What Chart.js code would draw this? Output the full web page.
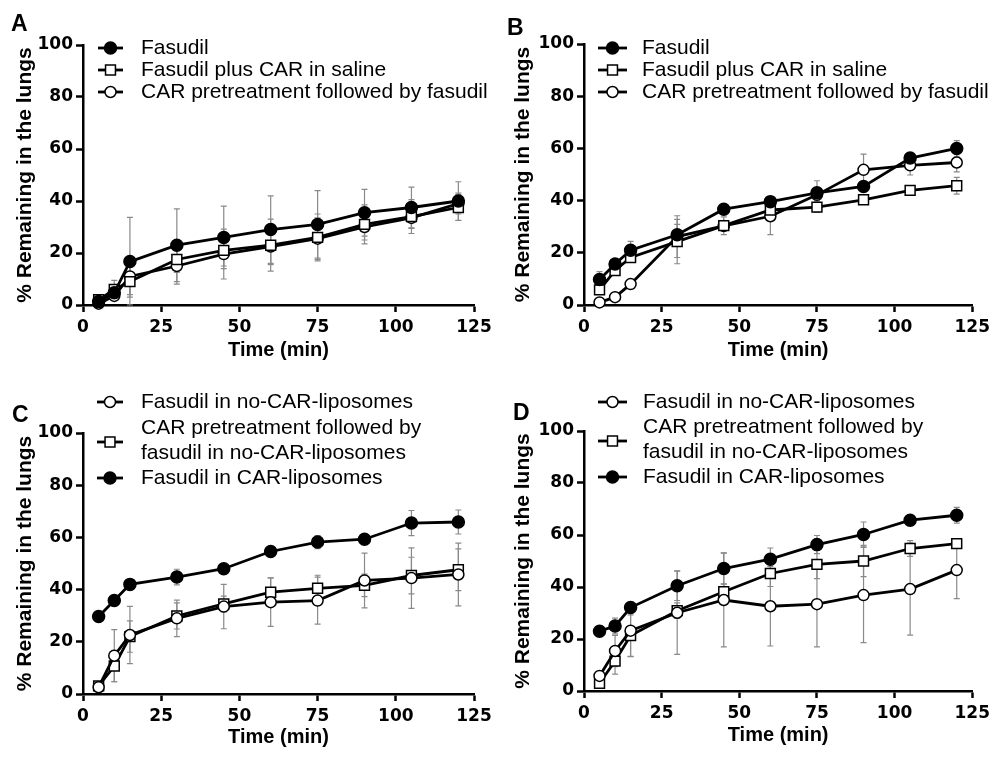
<!DOCTYPE html>
<html>
<head>
<meta charset="utf-8">
<script src="https://cdn.jsdelivr.net/npm/chart.js@4.4.0/dist/chart.umd.min.js"></script>
<style>
html, body { margin: 0; padding: 0; background: #fff; }
#page { position: relative; width: 995px; height: 759px; overflow: hidden; }
.panel { position: absolute; }
.panel canvas { display: block; }
</style>
</head>
<body>
<div id="page">
  <div class="panel" style="left:0;top:0"><canvas id="chartA" width="497" height="375"></canvas></div>
  <div class="panel" style="left:497px;top:0"><canvas id="chartB" width="498" height="375"></canvas></div>
  <div class="panel" style="left:0;top:375px"><canvas id="chartC" width="497" height="384"></canvas></div>
  <div class="panel" style="left:497px;top:375px"><canvas id="chartD" width="498" height="384"></canvas></div>
</div>
<script>
// sampling times (min)
const TIMES = [5, 10, 15, 30, 45, 60, 75, 90, 105, 120];
const X_TICKS = [0, 25, 50, 75, 100, 125];
const Y_TICKS = [0, 20, 40, 60, 80, 100];

// panel A
const A_FASUDIL = [1.3, 4.7, 16.7, 23.0, 26.0, 29.0, 31.0, 35.5, 37.5, 40.0];
const A_FASUDIL_SD = [1.0, 2.0, 17.0, 14.0, 12.0, 13.0, 13.0, 9.0, 7.8, 7.4];
const A_CAR_SALINE = [2.0, 6.0, 9.0, 17.5, 21.0, 23.0, 26.0, 31.0, 34.0, 37.5];
const A_CAR_SALINE_SD = [1.0, 3.5, 6.0, 5.0, 6.0, 10.0, 9.0, 7.5, 6.5, 5.0];
const A_CAR_PRE = [0.5, 3.5, 11.0, 15.0, 19.6, 22.5, 25.5, 30.0, 33.5, 39.0];
const A_CAR_PRE_SD = [0.8, 1.0, 7.0, 7.0, 9.6, 7.0, 8.0, 5.0, 4.0, 4.0];

// panel B
const B_FASUDIL = [9.8, 15.7, 21.0, 26.9, 36.7, 39.6, 43.0, 45.4, 56.3, 60.0];
const B_FASUDIL_SD = [3.0, 1.5, 3.4, 4.0, 2.0, 1.5, 4.6, 1.5, 1.5, 3.0];
const B_CAR_SALINE = [5.8, 13.2, 18.2, 24.3, 30.4, 36.4, 37.5, 40.3, 43.9, 45.7];
const B_CAR_SALINE_SD = [1.5, 1.5, 1.5, 8.5, 3.4, 2.0, 2.0, 1.5, 1.5, 3.2];
const B_CAR_PRE = [1.0, 3.0, 8.0, 26.2, 30.3, 34.0, 42.2, 51.8, 53.5, 54.6];
const B_CAR_PRE_SD = [0.5, 1.0, 1.0, 8.0, 2.0, 7.0, 2.0, 6.0, 3.7, 3.6];

// panel C
const C_NO_CAR = [2.6, 14.7, 22.6, 29.0, 33.5, 35.2, 35.8, 43.5, 44.4, 45.8];
const C_NO_CAR_SD = [1.0, 10.0, 11.0, 7.0, 8.5, 9.3, 9.0, 10.5, 11.6, 12.0];
const C_CAR_PRE = [3.1, 10.7, 22.0, 29.9, 34.5, 39.0, 40.5, 41.6, 45.4, 47.6];
const C_CAR_PRE_SD = [1.0, 6.0, 6.0, 5.0, 3.0, 5.5, 5.0, 4.3, 7.0, 8.0];
const C_CAR_LIPO = [29.7, 35.8, 42.0, 44.8, 48.0, 54.6, 58.2, 59.3, 65.5, 65.9];
const C_CAR_LIPO_SD = [1.5, 1.5, 1.5, 3.0, 1.5, 1.0, 2.5, 1.5, 4.8, 4.6];

// panel D
const D_NO_CAR = [5.8, 15.4, 23.2, 30.1, 35.0, 32.6, 33.4, 36.9, 39.2, 46.5];
const D_NO_CAR_SD = [1.0, 6.0, 10.0, 16.0, 18.0, 15.3, 16.4, 18.3, 17.7, 11.0];
const D_CAR_PRE = [3.0, 11.5, 21.3, 30.9, 38.2, 45.2, 48.7, 50.0, 54.8, 56.7];
const D_CAR_PRE_SD = [1.0, 5.0, 8.0, 3.0, 3.0, 5.0, 5.5, 6.0, 3.0, 1.5];
const D_CAR_LIPO = [23.0, 25.0, 32.1, 40.5, 47.1, 50.7, 56.3, 60.2, 65.7, 67.6];
const D_CAR_LIPO_SD = [2.0, 3.0, 2.0, 5.7, 6.0, 4.3, 3.5, 4.8, 1.5, 3.0];

const LABELS_AB = ['Fasudil', 'Fasudil plus CAR in saline', 'CAR pretreatment followed by fasudil'];
const LABELS_CD = ['Fasudil in no-CAR-liposomes', ['CAR pretreatment followed by', 'fasudil in no-CAR-liposomes'], 'Fasudil in CAR-liposomes'];

// marker styles
const FILLED = { pointStyle: 'circle', pointRadius: 6, pointBackgroundColor: '#000' };
const OPEN = { pointStyle: 'circle', pointRadius: 5.5, pointBackgroundColor: '#fff' };
const SQUARE = { pointStyle: 'rect', pointRadius: 7, pointBackgroundColor: '#fff' };

const TICK_FONT = { family: '"DejaVu Sans", sans-serif', size: 17, weight: 'bold' };
const XTITLE_FONT = { family: '"Liberation Sans", Arial, sans-serif', size: 20, weight: 'bold' };
const YTITLE_FONT = { family: '"Liberation Sans", Arial, sans-serif', size: 21, weight: 'bold' };
const LEGEND_FONT = '21px "Liberation Sans", Arial, sans-serif';
const LETTER_FONT = 'bold 23px "Liberation Sans", Arial, sans-serif';

// gray error bars (mean +/- SD) drawn under the lines
const errorBars = {
    id: 'errorBars',
    beforeDatasetsDraw(chart) {
        const ctx = chart.ctx;
        const xs = chart.scales.x, ys = chart.scales.y;
        ctx.save();
        ctx.strokeStyle = '#8a8a8a';
        ctx.lineWidth = 1.2;
        chart.data.datasets.forEach(function(ds) {
            ds.data.forEach(function(p, i) {
                const sd = ds.sd[i];
                const x = xs.getPixelForValue(p.x);
                const yTop = ys.getPixelForValue(p.y + sd);
                const yBot = ys.getPixelForValue(Math.max(0, p.y - sd));
                ctx.beginPath();
                ctx.moveTo(x, yTop); ctx.lineTo(x, yBot);
                ctx.moveTo(x - 3, yTop); ctx.lineTo(x + 3, yTop);
                ctx.moveTo(x - 3, yBot); ctx.lineTo(x + 3, yBot);
                ctx.stroke();
            });
        });
        ctx.restore();
    }
};

// panel letter + legend inside the plot
function decoPlugin(panel) {
    return {
        id: 'deco',
        afterDraw(chart) {
            const ctx = chart.ctx;
            const lg = panel.legend;
            ctx.save();
            ctx.fillStyle = '#000';
            ctx.font = LETTER_FONT;
            ctx.textBaseline = 'alphabetic';
            ctx.textAlign = 'left';
            ctx.fillText(panel.letter, panel.letterX, panel.letterY);

            ctx.font = LEGEND_FONT;
            ctx.textBaseline = 'middle';
            chart.data.datasets.forEach(function(ds, i) {
                const row = lg.rows[i];
                const lines = Array.isArray(ds.label) ? ds.label : [ds.label];
                ctx.strokeStyle = '#000';
                ctx.lineWidth = 2.8;
                ctx.beginPath();
                ctx.moveTo(lg.x1, row.marker);
                ctx.lineTo(lg.x2, row.marker);
                ctx.stroke();
                ctx.fillStyle = ds.pointBackgroundColor;
                ctx.strokeStyle = '#000';
                ctx.lineWidth = 1.5;
                Chart.helpers.drawPoint(ctx, {
                    pointStyle: ds.pointStyle, radius: ds.pointRadius, rotation: 0, borderWidth: 1.5
                }, (lg.x1 + lg.x2) / 2, row.marker);
                ctx.fillStyle = '#000';
                lines.forEach(function(t, k) {
                    ctx.fillText(t, lg.textX, row.text[k]);
                });
            });
            ctx.restore();
        }
    };
}

function makeChart(id, panel, series) {
    const canvas = document.getElementById(id);
    const W = canvas.width, H = canvas.height;
    const a = panel.area;

    const datasets = series.map(function(s) {
        return Object.assign({
            label: s.label,
            data: TIMES.map(function(t, i) { return { x: t, y: s.values[i] }; }),
            sd: s.sd,
            borderColor: '#000',
            borderWidth: 2.8,
            pointBorderColor: '#000',
            pointBorderWidth: 1.5,
            tension: 0,
            clip: false
        }, s.style);
    });

    const axisCommon = {
        type: 'linear',
        border: { display: true, color: '#000', width: 2.5 },
        grid: { drawOnChartArea: false, drawTicks: true, tickLength: 7, tickWidth: 2.5, tickColor: '#000' }
    };

    return new Chart(canvas, {
        type: 'line',
        data: { datasets: datasets },
        options: {
            responsive: false,
            animation: false,
            devicePixelRatio: 1,
            layout: { padding: { left: 0, top: a.top, right: W - a.right, bottom: 0 } },
            plugins: { legend: { display: false }, tooltip: { enabled: false } },
            scales: {
                x: Object.assign({}, axisCommon, {
                    position: 'bottom',
                    min: 0, max: 125,
                    afterBuildTicks(s) { s.ticks = X_TICKS.map(function(v) { return { value: v }; }); },
                    ticks: { font: TICK_FONT, color: '#000', padding: 5, maxRotation: 0, autoSkip: false },
                    title: {
                        display: true, text: 'Time (min)', color: '#000', font: XTITLE_FONT,
                        padding: { top: 0, bottom: panel.xTitle - XTITLE_FONT.size * 0.6 }
                    },
                    afterFit(s) { s.height = H - a.bottom; }
                }),
                y: Object.assign({}, axisCommon, {
                    position: 'left',
                    min: 0, max: 100,
                    afterBuildTicks(s) { s.ticks = Y_TICKS.map(function(v) { return { value: v }; }); },
                    ticks: { font: TICK_FONT, color: '#000', padding: 3, autoSkip: false },
                    title: {
                        display: true, text: '% Remaining in the lungs', color: '#000', font: YTITLE_FONT,
                        padding: { top: panel.yTitle - YTITLE_FONT.size * 0.6, bottom: 0 }
                    },
                    afterFit(s) { s.width = a.left; }
                })
            }
        },
        plugins: [errorBars, decoPlugin(panel)]
    });
}

makeChart('chartA', {
    area: { left: 83, top: 45, right: 474, bottom: 305 },
    xTitle: 25, yTitle: 25,
    letter: 'A', letterX: 11, letterY: 31,
    legend: { x1: 98, x2: 123, textX: 141, rows: [
        { marker: 48, text: [48] }, { marker: 70, text: [70] }, { marker: 92, text: [92] }
    ] }
}, [
    { label: LABELS_AB[0], values: A_FASUDIL, sd: A_FASUDIL_SD, style: FILLED },
    { label: LABELS_AB[1], values: A_CAR_SALINE, sd: A_CAR_SALINE_SD, style: SQUARE },
    { label: LABELS_AB[2], values: A_CAR_PRE, sd: A_CAR_PRE_SD, style: OPEN }
]);

makeChart('chartB', {
    area: { left: 87, top: 44, right: 478, bottom: 305 },
    xTitle: 25, yTitle: 26,
    letter: 'B', letterX: 10, letterY: 35,
    legend: { x1: 101, x2: 130, textX: 145, rows: [
        { marker: 48, text: [48] }, { marker: 70, text: [70] }, { marker: 92, text: [92] }
    ] }
}, [
    { label: LABELS_AB[0], values: B_FASUDIL, sd: B_FASUDIL_SD, style: FILLED },
    { label: LABELS_AB[1], values: B_CAR_SALINE, sd: B_CAR_SALINE_SD, style: SQUARE },
    { label: LABELS_AB[2], values: B_CAR_PRE, sd: B_CAR_PRE_SD, style: OPEN }
]);

makeChart('chartC', {
    area: { left: 83, top: 58, right: 474, bottom: 319 },
    xTitle: 22, yTitle: 25,
    letter: 'C', letterX: 12, letterY: 47,
    legend: { x1: 97, x2: 123, textX: 141, rows: [
        { marker: 27, text: [27] }, { marker: 67, text: [53, 78] }, { marker: 103, text: [103] }
    ] }
}, [
    { label: LABELS_CD[0], values: C_NO_CAR, sd: C_NO_CAR_SD, style: OPEN },
    { label: LABELS_CD[1], values: C_CAR_PRE, sd: C_CAR_PRE_SD, style: SQUARE },
    { label: LABELS_CD[2], values: C_CAR_LIPO, sd: C_CAR_LIPO_SD, style: FILLED }
]);

makeChart('chartD', {
    area: { left: 87, top: 56, right: 478, bottom: 316 },
    xTitle: 24, yTitle: 26,
    letter: 'D', letterX: 16, letterY: 45,
    legend: { x1: 101, x2: 130, textX: 146, rows: [
        { marker: 27, text: [27] }, { marker: 66, text: [52, 77] }, { marker: 102, text: [102] }
    ] }
}, [
    { label: LABELS_CD[0], values: D_NO_CAR, sd: D_NO_CAR_SD, style: OPEN },
    { label: LABELS_CD[1], values: D_CAR_PRE, sd: D_CAR_PRE_SD, style: SQUARE },
    { label: LABELS_CD[2], values: D_CAR_LIPO, sd: D_CAR_LIPO_SD, style: FILLED }
]);
</script>
</body>
</html>
